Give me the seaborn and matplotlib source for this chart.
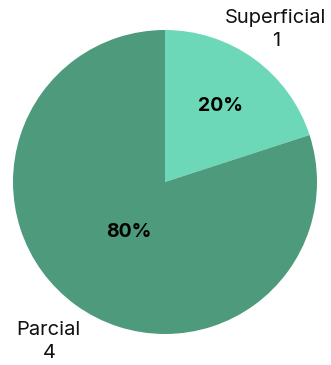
import matplotlib
matplotlib.use("Agg")
import matplotlib.pyplot as plt
import seaborn as sns
import numpy as np

sns.set_theme(style="white")
plt.rcParams['font.family'] = ['Inter', 'DejaVu Sans']

categories = ["Superficial", "Parcial"]
counts = [1, 4]
colors = ["#6CD8B8", "#4E9A7C"]
pct_dist = [0.62, 0.41]
label_dist = [1.24, 1.30]

W, H = 331, 365
fig = plt.figure(figsize=(W / 100, H / 100), dpi=100)
cx, cy, r = 165, 182, 152
ax = fig.add_axes([(cx - r) / W, (H - cy - r) / H, 2 * r / W, 2 * r / H])

wedges, texts, autotexts = ax.pie(
    counts, colors=colors, startangle=90, counterclock=False,
    labels=[f"{c}\n{v}" for c, v in zip(categories, counts)],
    autopct=lambda p: f"{p:.0f}%",
    wedgeprops=dict(linewidth=0),
    textprops=dict(fontsize=14.5),
)

for w, t, a, pd_, ld in zip(wedges, texts, autotexts, pct_dist, label_dist):
    ang = np.deg2rad((w.theta1 + w.theta2) / 2)
    t.set_position((ld * np.cos(ang), ld * np.sin(ang)))
    t.set_ha("center")
    t.set_va("center")
    t.set_linespacing(1.35)
    t.set_color("#111111")
    a.set_position((pd_ * np.cos(ang), pd_ * np.sin(ang)))
    a.set_fontweight("bold")
    a.set_fontsize(14)
    a.set_color("#000000")

ax.set_xlim(-1, 1)
ax.set_ylim(-1, 1)
ax.set_aspect("equal")
ax.axis("off")

fig.savefig("out.png", dpi=100, facecolor="white")
